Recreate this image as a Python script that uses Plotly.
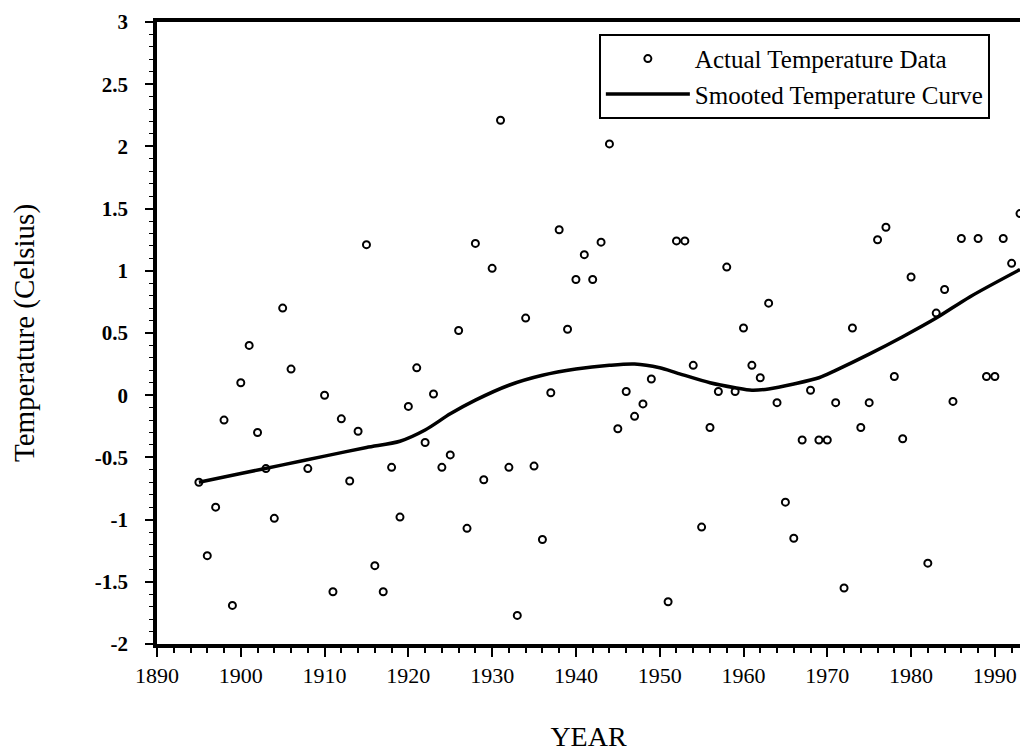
import plotly.graph_objects as go

years = [1895, 1896, 1897, 1898, 1899, 1900, 1901, 1902, 1903, 1904, 1905, 1906, 1908,
         1910, 1911, 1912, 1913, 1914, 1915, 1916, 1917, 1918, 1919, 1920, 1921, 1922,
         1923, 1924, 1925, 1926, 1927, 1928, 1929, 1930, 1931, 1932, 1933, 1934, 1935,
         1936, 1937, 1938, 1939, 1940, 1941, 1942, 1943, 1944, 1945, 1946, 1947, 1948,
         1949, 1951, 1952, 1953, 1954, 1955, 1956, 1957, 1958, 1959, 1960, 1961, 1962,
         1963, 1964, 1965, 1966, 1967, 1968, 1969, 1970, 1971, 1972, 1973, 1974, 1975,
         1976, 1977, 1978, 1979, 1980, 1982, 1983, 1984, 1985, 1986, 1988, 1989, 1990,
         1991, 1992, 1993]
temps = [-0.70, -1.29, -0.90, -0.20, -1.69, 0.10, 0.40, -0.30, -0.59, -0.99, 0.70, 0.21, -0.59,
         0.00, -1.58, -0.19, -0.69, -0.29, 1.21, -1.37, -1.58, -0.58, -0.98, -0.09, 0.22, -0.38,
         0.01, -0.58, -0.48, 0.52, -1.07, 1.22, -0.68, 1.02, 2.21, -0.58, -1.77, 0.62, -0.57,
         -1.16, 0.02, 1.33, 0.53, 0.93, 1.13, 0.93, 1.23, 2.02, -0.27, 0.03, -0.17, -0.07,
         0.13, -1.66, 1.24, 1.24, 0.24, -1.06, -0.26, 0.03, 1.03, 0.03, 0.54, 0.24, 0.14,
         0.74, -0.06, -0.86, -1.15, -0.36, 0.04, -0.36, -0.36, -0.06, -1.55, 0.54, -0.26, -0.06,
         1.25, 1.35, 0.15, -0.35, 0.95, -1.35, 0.66, 0.85, -0.05, 1.26, 1.26, 0.15, 0.15,
         1.26, 1.06, 1.46]

smooth_years = [1895, 1900, 1905, 1910, 1915, 1919, 1922, 1925, 1928, 1932, 1936, 1940,
                1944, 1947, 1950, 1952, 1956, 1959, 1961, 1963, 1966, 1969, 1971, 1975,
                1979, 1983, 1987, 1993]
smooth_temps = [-0.70, -0.63, -0.56, -0.49, -0.42, -0.37, -0.28, -0.15, -0.04, 0.08, 0.16, 0.21,
                0.24, 0.25, 0.22, 0.18, 0.10, 0.06, 0.04, 0.05, 0.09, 0.14, 0.20, 0.33,
                0.47, 0.62, 0.79, 1.01]

x_ticks = [1890, 1900, 1910, 1920, 1930, 1940, 1950, 1960, 1970, 1980, 1990]
y_ticks = [3, 2.5, 2, 1.5, 1, 0.5, 0, -0.5, -1, -1.5, -2]
y_tick_text = ["3", "2.5", "2", "1.5", "1", "0.5", "0", "-0.5", "-1", "-1.5", "-2"]

FONT = "Liberation Serif, Times New Roman, serif"

fig = go.Figure()
fig.add_trace(go.Scatter(
    x=years, y=temps, mode="markers", name="Actual Temperature Data",
    marker=dict(symbol="circle-open", size=7, color="black", line=dict(width=2, color="black")),
))
fig.add_trace(go.Scatter(
    x=smooth_years, y=smooth_temps, mode="lines", name="Smooted Temperature Curve",
    line=dict(color="black", width=3.5, shape="spline", smoothing=0.8),
))

fig.update_layout(
    width=1023, height=752,
    margin=dict(l=157, r=3, t=22, b=108),
    paper_bgcolor="white", plot_bgcolor="white",
    font=dict(family=FONT, color="black", size=20),
    legend=dict(
        x=0.512, y=0.981, xanchor="left", yanchor="top",
        bordercolor="black", borderwidth=2, bgcolor="white",
        font=dict(family=FONT, size=25, color="black"),
        itemwidth=84, tracegroupgap=0,
    ),
    showlegend=True,
)
fig.update_xaxes(
    range=[1890, 1993], tickvals=x_ticks, ticks="outside", ticklen=9, tickwidth=2,
    tickcolor="black", showline=True, linewidth=3.5, linecolor="black", mirror=True,
    showgrid=False, zeroline=False, ticklabelstandoff=0, automargin=False,
    minor=dict(dtick=2, tick0=1890, ticks="outside", ticklen=5, tickwidth=1.5, tickcolor="black"),
    tickfont=dict(family=FONT, size=22),
    title=dict(text="YEAR", font=dict(family=FONT, size=28), standoff=42),
)
fig.update_yaxes(
    range=[-2, 3], tickvals=y_ticks, ticktext=y_tick_text, ticks="outside", ticklen=8,
    tickwidth=2, tickcolor="black", showline=True, linewidth=3.5, linecolor="black",
    showgrid=False, zeroline=False, ticklabelstandoff=13, automargin=False,
    minor=dict(dtick=0.1, tick0=0, ticks="outside", ticklen=4, tickwidth=1.2, tickcolor="black"),
    tickfont=dict(family=FONT, size=21, weight="bold"),
    title=dict(text="Temperature (Celsius)", font=dict(family=FONT, size=29), standoff=53),
)

fig.write_html("out.html", config={"displayModeBar": False},
               post_script="document.body.style.margin='0';")
